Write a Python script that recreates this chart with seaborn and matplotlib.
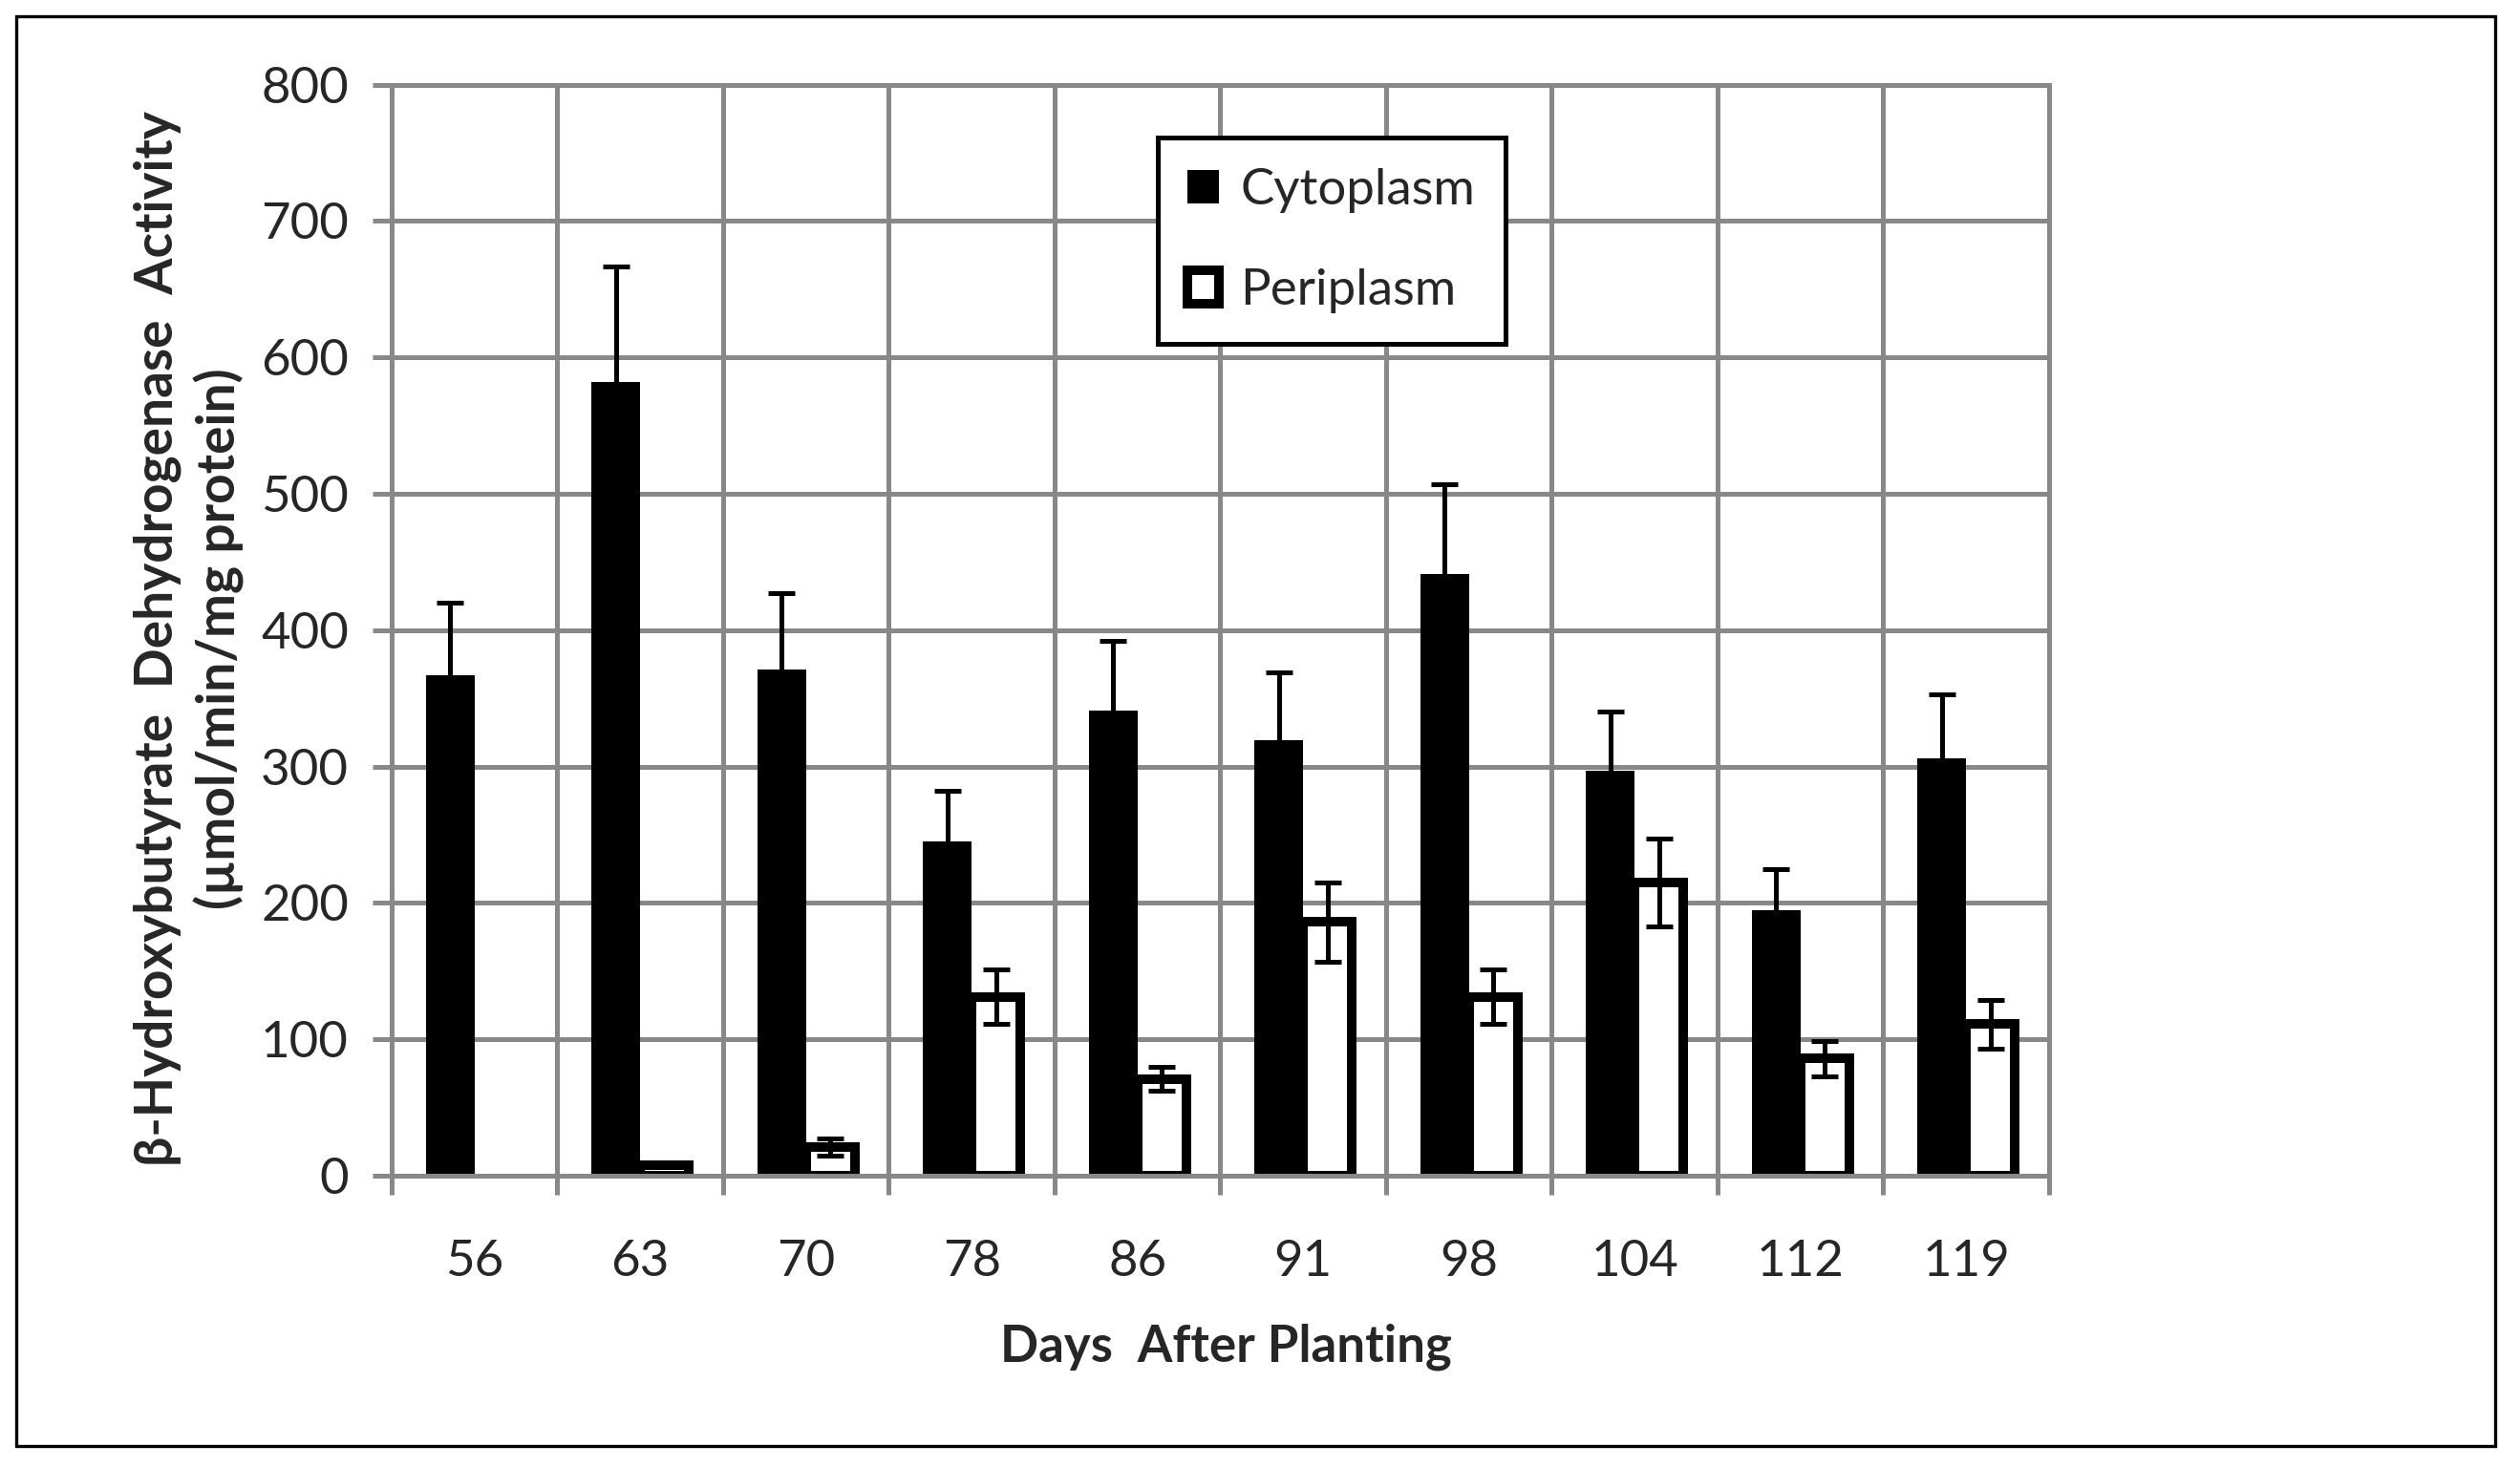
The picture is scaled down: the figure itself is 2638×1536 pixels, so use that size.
import seaborn as sns
import matplotlib.pyplot as plt
import pandas as pd
from matplotlib.patches import Patch, Rectangle
from matplotlib.ticker import FixedLocator, MultipleLocator

# values
days = ["56", "63", "70", "78", "86", "91", "98", "104", "112", "119"]
cytoplasm = [367, 582, 371, 245, 341, 319, 441, 297, 195, 306]
cytoplasm_err = [53, 85, 56, 37, 51, 50, 66, 43, 30, 47]
periplasm = [0, 8, 21, 131, 71, 186, 131, 215, 86, 111]
periplasm_err = [0, 0, 6, 20, 9, 29, 20, 32, 13, 18]

fractions = ["Cytoplasm", "Periplasm"]

df = pd.DataFrame({
    "day": days * 2,
    "fraction": ["Cytoplasm"] * len(days) + ["Periplasm"] * len(days),
    "activity": cytoplasm + periplasm,
})

sns.set_theme(style="white")
plt.rcParams["font.family"] = ["Lato", "DejaVu Sans"]

grid_col = "#888888"
fs = 19

fig = plt.figure(figsize=(13.19, 7.68), dpi=200)
ax = fig.add_axes([0.1554, 0.1986, 0.6577, 0.7437])

sns.barplot(data=df, x="day", y="activity", hue="fraction", hue_order=fractions,
            order=days, palette={"Cytoplasm": "black", "Periplasm": "white"},
            width=0.588, edgecolor="black", linewidth=0, legend=False, ax=ax, zorder=2)

# cytoplasm bars plain black, periplasm bars white with thick black outline
for bar in ax.containers[1]:
    if bar.get_height() > 0:
        bar.set_linewidth(3.6)

# error bars on top of the seaborn bars (skip the ones with no error)
for cont, err in zip(ax.containers, [cytoplasm_err, periplasm_err]):
    pts = [(b.get_x() + b.get_width() / 2, b.get_height(), e) for b, e in zip(cont, err) if e > 0]
    xs, ys, es = zip(*pts)
    ax.errorbar(xs, ys, yerr=es, fmt="none", ecolor="black", elinewidth=1.8,
                capsize=5, capthick=1.8, zorder=3)

ax.set_ylim(0, 800)
ax.set_xlim(-0.5, len(days) - 0.5)
ax.yaxis.set_major_locator(MultipleLocator(100))
ax.xaxis.set_minor_locator(FixedLocator([i - 0.5 for i in range(len(days) + 1)]))

ax.grid(axis="y", which="major", color=grid_col, linewidth=1.8, zorder=0)
ax.grid(axis="x", which="minor", color=grid_col, linewidth=1.8, zorder=0)
ax.grid(axis="x", which="major", visible=False)
ax.set_axisbelow(True)

for side in ["left", "bottom", "top", "right"]:
    ax.spines[side].set_color(grid_col)
    ax.spines[side].set_linewidth(1.8)

ax.tick_params(axis="y", which="major", length=7.2, width=1.8, color=grid_col,
               labelsize=fs, pad=9, left=True)
ax.tick_params(axis="x", which="major", length=0, labelsize=fs, pad=24)
ax.tick_params(axis="x", which="minor", length=7.2, width=1.8, color=grid_col, bottom=True)
ax.set_xlabel("")
ax.set_ylabel("")

fig.text(0.4865, 0.082, "Days  After Planting", ha="center", va="center",
         fontsize=fs, fontweight="bold")
fig.text(0.0749, 0.5647, "β-Hydroxybutyrate  Dehydrogenase  Activity\n(µmol/min/mg protein)",
         ha="center", va="center", rotation=90, fontsize=19.8, fontweight="bold",
         multialignment="center", linespacing=1.3)

handles = [Patch(facecolor="black", edgecolor="black", linewidth=0),
           Patch(facecolor="white", edgecolor="black", linewidth=3.6)]
leg = ax.legend(handles, fractions, loc="upper left", bbox_to_anchor=(0.4593, 0.906),
                bbox_transform=fig.transFigure, borderaxespad=0, fontsize=fs,
                handlelength=0.62, handleheight=0.62, handletextpad=0.42,
                borderpad=0.6, labelspacing=1.1, fancybox=False, framealpha=1)
leg.get_frame().set_edgecolor("black")
leg.get_frame().set_linewidth(1.8)

# thin border round the whole chart
fig.patches.append(Rectangle((0.00644, 0.01432), 0.9837, 0.9746, transform=fig.transFigure,
                             fill=False, edgecolor="black", linewidth=1.2))

plt.savefig("out.png", dpi=200)
